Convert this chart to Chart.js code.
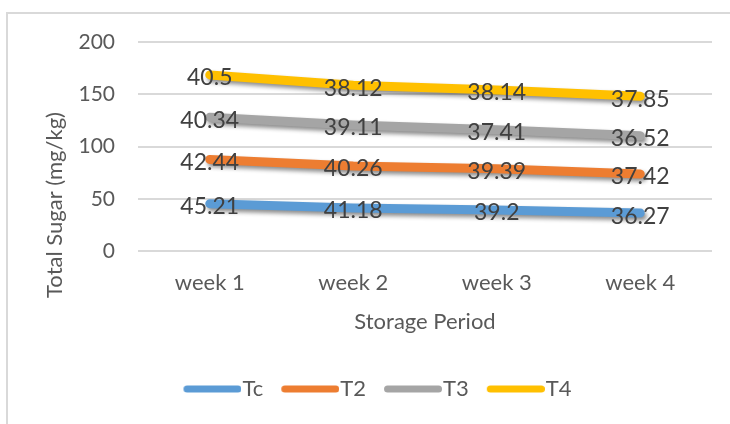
<!DOCTYPE html>
<html><head><meta charset="utf-8">
<script src="https://cdn.jsdelivr.net/npm/chart.js@4"></script>
<style>html,body{margin:0;padding:0;background:#fff;}</style>
</head><body>
<canvas id="c" width="730" height="424" style="display:block;width:730px;height:424px"></canvas>
<script>
const categories = ['week 1', 'week 2', 'week 3', 'week 4'];
const seriesNames = ['Tc', 'T2', 'T3', 'T4'];
const tcValues = [45.21, 41.18, 39.2, 36.27];
const t2Values = [42.44, 40.26, 39.39, 37.42];
const t3Values = [40.34, 39.11, 37.41, 36.52];
const t4Values = [40.5, 38.12, 38.14, 37.85];
const yTickMin = 0, yTickMax = 200, yTickStep = 50;
const yTitle = 'Total Sugar (mg/kg)';
const xTitle = 'Storage Period';
const seriesColors = ['#5B9BD5', '#ED7D31', '#A5A5A5', '#FFC000'];

const FONT = 'Lato, "Liberation Sans", sans-serif';
const TEXT = '#595959';
const LEG_FS = 22, LEG_BOX = 48;

function swatch(color) {
  const W = LEG_BOX + LEG_FS - 2, H = 10;
  const cv = document.createElement('canvas');
  cv.width = W; cv.height = H;
  const c = cv.getContext('2d');
  c.strokeStyle = color; c.lineWidth = 7; c.lineCap = 'round';
  c.beginPath();
  c.moveTo(W - 58 + 3.5, H / 2);
  c.lineTo(W - 3.5, H / 2);
  c.stroke();
  return cv;
}

const frame = {
  id: 'frame',
  beforeDraw(chart) {
    const c = chart.ctx;
    c.save();
    c.fillStyle = '#fff';
    c.fillRect(0, 0, chart.width, chart.height);
    c.strokeStyle = '#D9D9D9';
    c.lineWidth = 2;
    c.beginPath();
    c.moveTo(7, chart.height + 5);
    c.lineTo(7, 13);
    c.lineTo(chart.width + 5, 13);
    c.stroke();
    // y axis title
    c.translate(55, 205);
    c.rotate(-Math.PI / 2);
    c.font = '22px ' + FONT;
    c.fillStyle = TEXT;
    c.textAlign = 'center';
    c.textBaseline = 'middle';
    c.fillText(yTitle, 0, 0);
    c.restore();
  }
};

const shadow = {
  id: 'shadow',
  beforeDatasetDraw(chart) {
    const c = chart.ctx;
    c.save();
    c.shadowColor = 'rgba(0,0,0,0.45)';
    c.shadowBlur = 4;
    c.shadowOffsetX = 2;
    c.shadowOffsetY = 3;
  },
  afterDatasetDraw(chart) { chart.ctx.restore(); }
};

const valueLabels = {
  id: 'valueLabels',
  afterDatasetsDraw(chart) {
    const c = chart.ctx;
    c.save();
    c.font = '23px ' + FONT;
    c.fillStyle = '#404040';
    c.textAlign = 'center';
    c.textBaseline = 'middle';
    chart.data.datasets.forEach((ds, i) => {
      const meta = chart.getDatasetMeta(i);
      meta.data.forEach((pt, j) => {
        c.fillText(String(ds.data[j]), pt.x, pt.y + 3);
      });
    });
    c.restore();
  }
};

const allSeries = [tcValues, t2Values, t3Values, t4Values];
const swatches = seriesColors.map(swatch);

new Chart(document.getElementById('c'), {
  type: 'line',
  data: {
    labels: categories,
    datasets: allSeries.map((vals, i) => ({
      label: seriesNames[i],
      data: vals,
      borderColor: seriesColors[i],
      backgroundColor: seriesColors[i],
      borderWidth: 9,
      borderCapStyle: 'round',
      borderJoinStyle: 'round',
      pointRadius: 0,
      pointHoverRadius: 0,
      tension: 0,
      fill: false
    }))
  },
  options: {
    responsive: false,
    animation: false,
    devicePixelRatio: 1,
    layout: { padding: { left: 43, right: 18, top: 42, bottom: 14 } },
    plugins: {
      tooltip: { enabled: false },
      legend: {
        position: 'bottom',
        labels: {
          usePointStyle: true,
          pointStyleWidth: LEG_BOX,
          boxHeight: 7,
          padding: 18,
          color: TEXT,
          font: { family: FONT, size: LEG_FS },
          generateLabels(chart) {
            return chart.data.datasets.map((ds, i) => ({
              text: ds.label,
              fillStyle: ds.borderColor,
              strokeStyle: ds.borderColor,
              lineWidth: 0,
              pointStyle: swatches[i],
              fontColor: TEXT,
              hidden: false,
              datasetIndex: i
            }));
          }
        }
      }
    },
    scales: {
      x: {
        offset: true,
        grid: { display: false },
        border: { display: false },
        ticks: { color: TEXT, font: { family: FONT, size: 22 }, padding: 11 },
        title: { display: true, text: xTitle, color: TEXT, font: { family: FONT, size: 22 }, padding: { top: 0, bottom: 25 } },
        afterFit(scale) { scale.height = 109; }
      },
      y: {
        stacked: true,
        min: yTickMin,
        max: yTickMax,
        grid: { color: '#D9D9D9', lineWidth: 2, drawTicks: false },
        border: { display: false },
        ticks: { stepSize: yTickStep, color: TEXT, font: { family: FONT, size: 21 }, padding: 23 },
        afterFit(scale) { scale.width = 95; }
      }
    }
  },
  plugins: [frame, shadow, valueLabels]
});
</script>
</body></html>
